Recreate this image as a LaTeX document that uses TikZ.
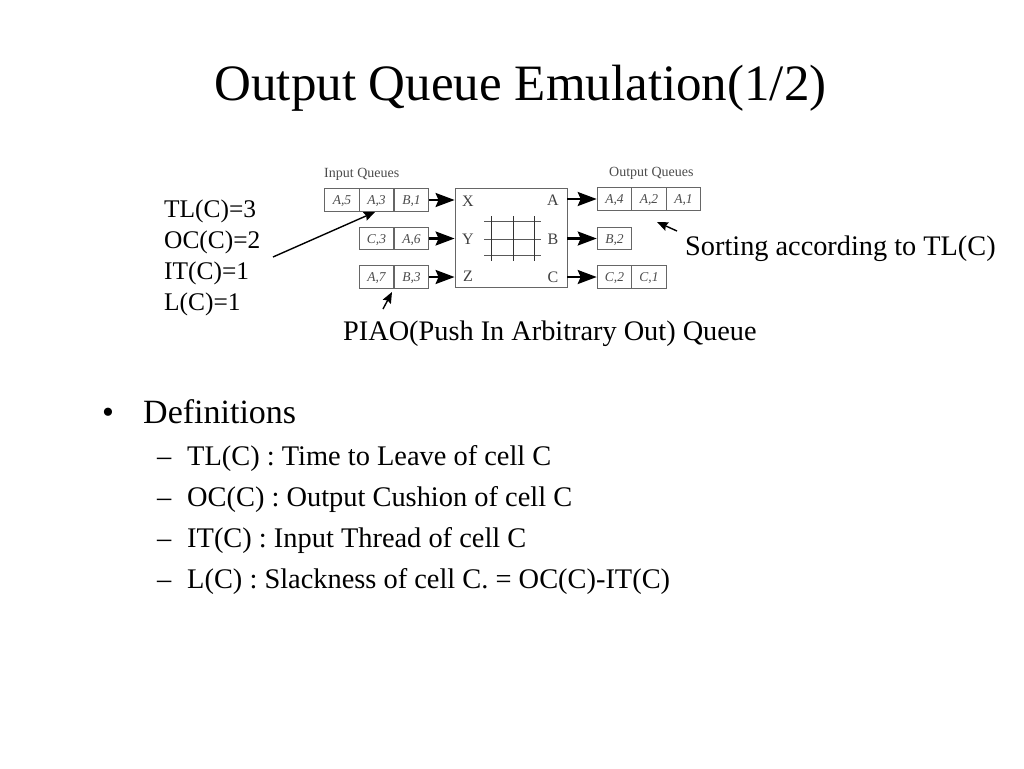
\documentclass[tikz,border=0pt]{standalone}
\usepackage{fontspec}
\setmainfont{Liberation Serif}
\usetikzlibrary{arrows.meta}
\tikzset{
 x=1pt,y=-1pt,
 cell/.style={draw=black!60,line width=0.9pt,minimum height=22.5pt,minimum width=34.7pt,inner sep=0pt,text height=9pt,text depth=0pt,text=black!70,font=\fontsize{13.5}{14}\selectfont\itshape},
 swbox/.style={draw=black!60,line width=0.9pt,minimum width=112pt,minimum height=99pt,inner sep=0pt},
 port/.style={inner sep=0pt,text=black!75,font=\fontsize{16}{17}\selectfont},
 small/.style={inner sep=0pt,anchor=base west,text=black!70,font=\fontsize{14}{15}\selectfont},
 title/.style={inner sep=0pt,anchor=base,font=\fontsize{51}{52}\selectfont},
 lab/.style={inner sep=0pt,anchor=base west,font=\fontsize{25.4}{27}\selectfont},
 note/.style={inner sep=0pt,anchor=base west,font=\fontsize{28.3}{30}\selectfont},
 body/.style={inner sep=0pt,anchor=base west,font=\fontsize{34}{36}\selectfont},
 sub/.style={inner sep=0pt,anchor=base west,font=\fontsize{28.4}{30}\selectfont},
 fat/.style={line width=2.2pt,-{Stealth[length=19pt,width=14pt,inset=3pt]}},
 thin arrow/.style={line width=1.4pt,-{Stealth[length=11pt,width=9pt,inset=1.5pt]}},
 grid line/.style={line width=0.8pt,black!65},
 grid bar/.style={line width=1pt,black!80},
}
\begin{document}
\begin{tikzpicture}
\useasboundingbox (0,0) rectangle (1024,768);
\fill[white] (0,0) rectangle (1024,768);
\node[title] (t) at (520.5,100) {Output Queue Emulation(1/2)};
\node[small] (iq) at (324,177) {Input Queues};
\node[small] (oq) at (609,176) {Output Queues};
% input queues
\node[cell] (i11) at (342,200) {A,5};
\node[cell] (i12) at (376.5,200) {A,3};
\node[cell] (i13) at (411.5,200) {B,1};
\node[cell] (i21) at (376.5,238.5) {C,3};
\node[cell] (i22) at (411.5,238.5) {A,6};
\node[cell] (i31) at (376.5,277) {A,7};
\node[cell] (i32) at (411.5,277) {B,3};
% switch
\node[swbox] (sw) at (511,238) {};
\node[port] (X) at (468,201) {X};
\node[port] (Y) at (468,239) {Y};
\node[port] (Z) at (468,276) {Z};
\node[port] (A) at (553,200) {A};
\node[port] (B) at (553,239) {B};
\node[port] (C) at (553,277) {C};
% crossbar
\coordinate (h1a) at (484,221); \coordinate (h1b) at (541,221);
\coordinate (h2a) at (484,239); \coordinate (h2b) at (541,239);
\coordinate (h3a) at (484,255); \coordinate (h3b) at (541,255);
\coordinate (v1a) at (491,216); \coordinate (v1b) at (491,261);
\coordinate (v2a) at (513,216); \coordinate (v2b) at (513,261);
\coordinate (v3a) at (534,216); \coordinate (v3b) at (534,261);
\draw[grid line] (h1a)--(h1b) (h2a)--(h2b) (h3a)--(h3b);
\draw[grid bar] (v1a)--(v1b) (v2a)--(v2b) (v3a)--(v3b);
% output queues
\node[cell] (o11) at (614.5,199) {A,4};
\node[cell] (o12) at (649,199) {A,2};
\node[cell] (o13) at (683.5,199) {A,1};
\node[cell] (o21) at (614.5,238.5) {B,2};
\node[cell] (o31) at (614.5,277) {C,2};
\node[cell] (o32) at (649,277) {C,1};
% flow arrows
\coordinate (xin) at (sw.west|-i13.east);
\coordinate (yin) at (sw.west|-i22.east);
\coordinate (zin) at (sw.west|-i32.east);
\coordinate (aout) at (sw.east|-o11.west);
\coordinate (bout) at (sw.east|-o21.west);
\coordinate (cout) at (sw.east|-o31.west);
\draw[fat] (i13.east)--(xin);
\draw[fat] (i22.east)--(yin);
\draw[fat] (i32.east)--(zin);
\draw[fat] (aout)--(o11.west);
\draw[fat] (bout)--(o21.west);
\draw[fat] (cout)--(o31.west);
% annotations
\node[lab] (l1) at (164,217) {TL(C)=3};
\node[lab] (l2) at (164,248) {OC(C)=2};
\node[lab] (l3) at (164,279) {IT(C)=1};
\node[lab] (l4) at (164,310) {L(C)=1};
\node[note] (sort) at (685,255) {Sorting according to TL(C)};
\node[note] (piao) at (343,340) {PIAO(Push In Arbitrary Out) Queue};
\coordinate (a1s) at (273,257); \coordinate (a1e) at (375,212);
\coordinate (a2s) at (383,309); \coordinate (a2e) at (392,292);
\coordinate (a3s) at (677,231); \coordinate (a3e) at (657,222);
\draw[thin arrow] (a1s)--(a1e);
\draw[thin arrow] (a2s)--(a2e);
\draw[thin arrow] (a3s)--(a3e);
% text
\node[body] (d0) at (102,423) {•};
\node[body] (d) at (143,423) {Definitions};
\node[sub] (b1) at (157,465) {–};
\node[sub] (s1) at (187,465) {TL(C) : Time to Leave of cell C};
\node[sub] (b2) at (157,506) {–};
\node[sub] (s2) at (187,506) {OC(C) : Output Cushion of cell C};
\node[sub] (b3) at (157,547) {–};
\node[sub] (s3) at (187,547) {IT(C) : Input Thread of cell C};
\node[sub] (b4) at (157,588) {–};
\node[sub] (s4) at (187,588) {L(C) : Slackness of cell C. = OC(C)-IT(C)};
\end{tikzpicture}
\end{document}
